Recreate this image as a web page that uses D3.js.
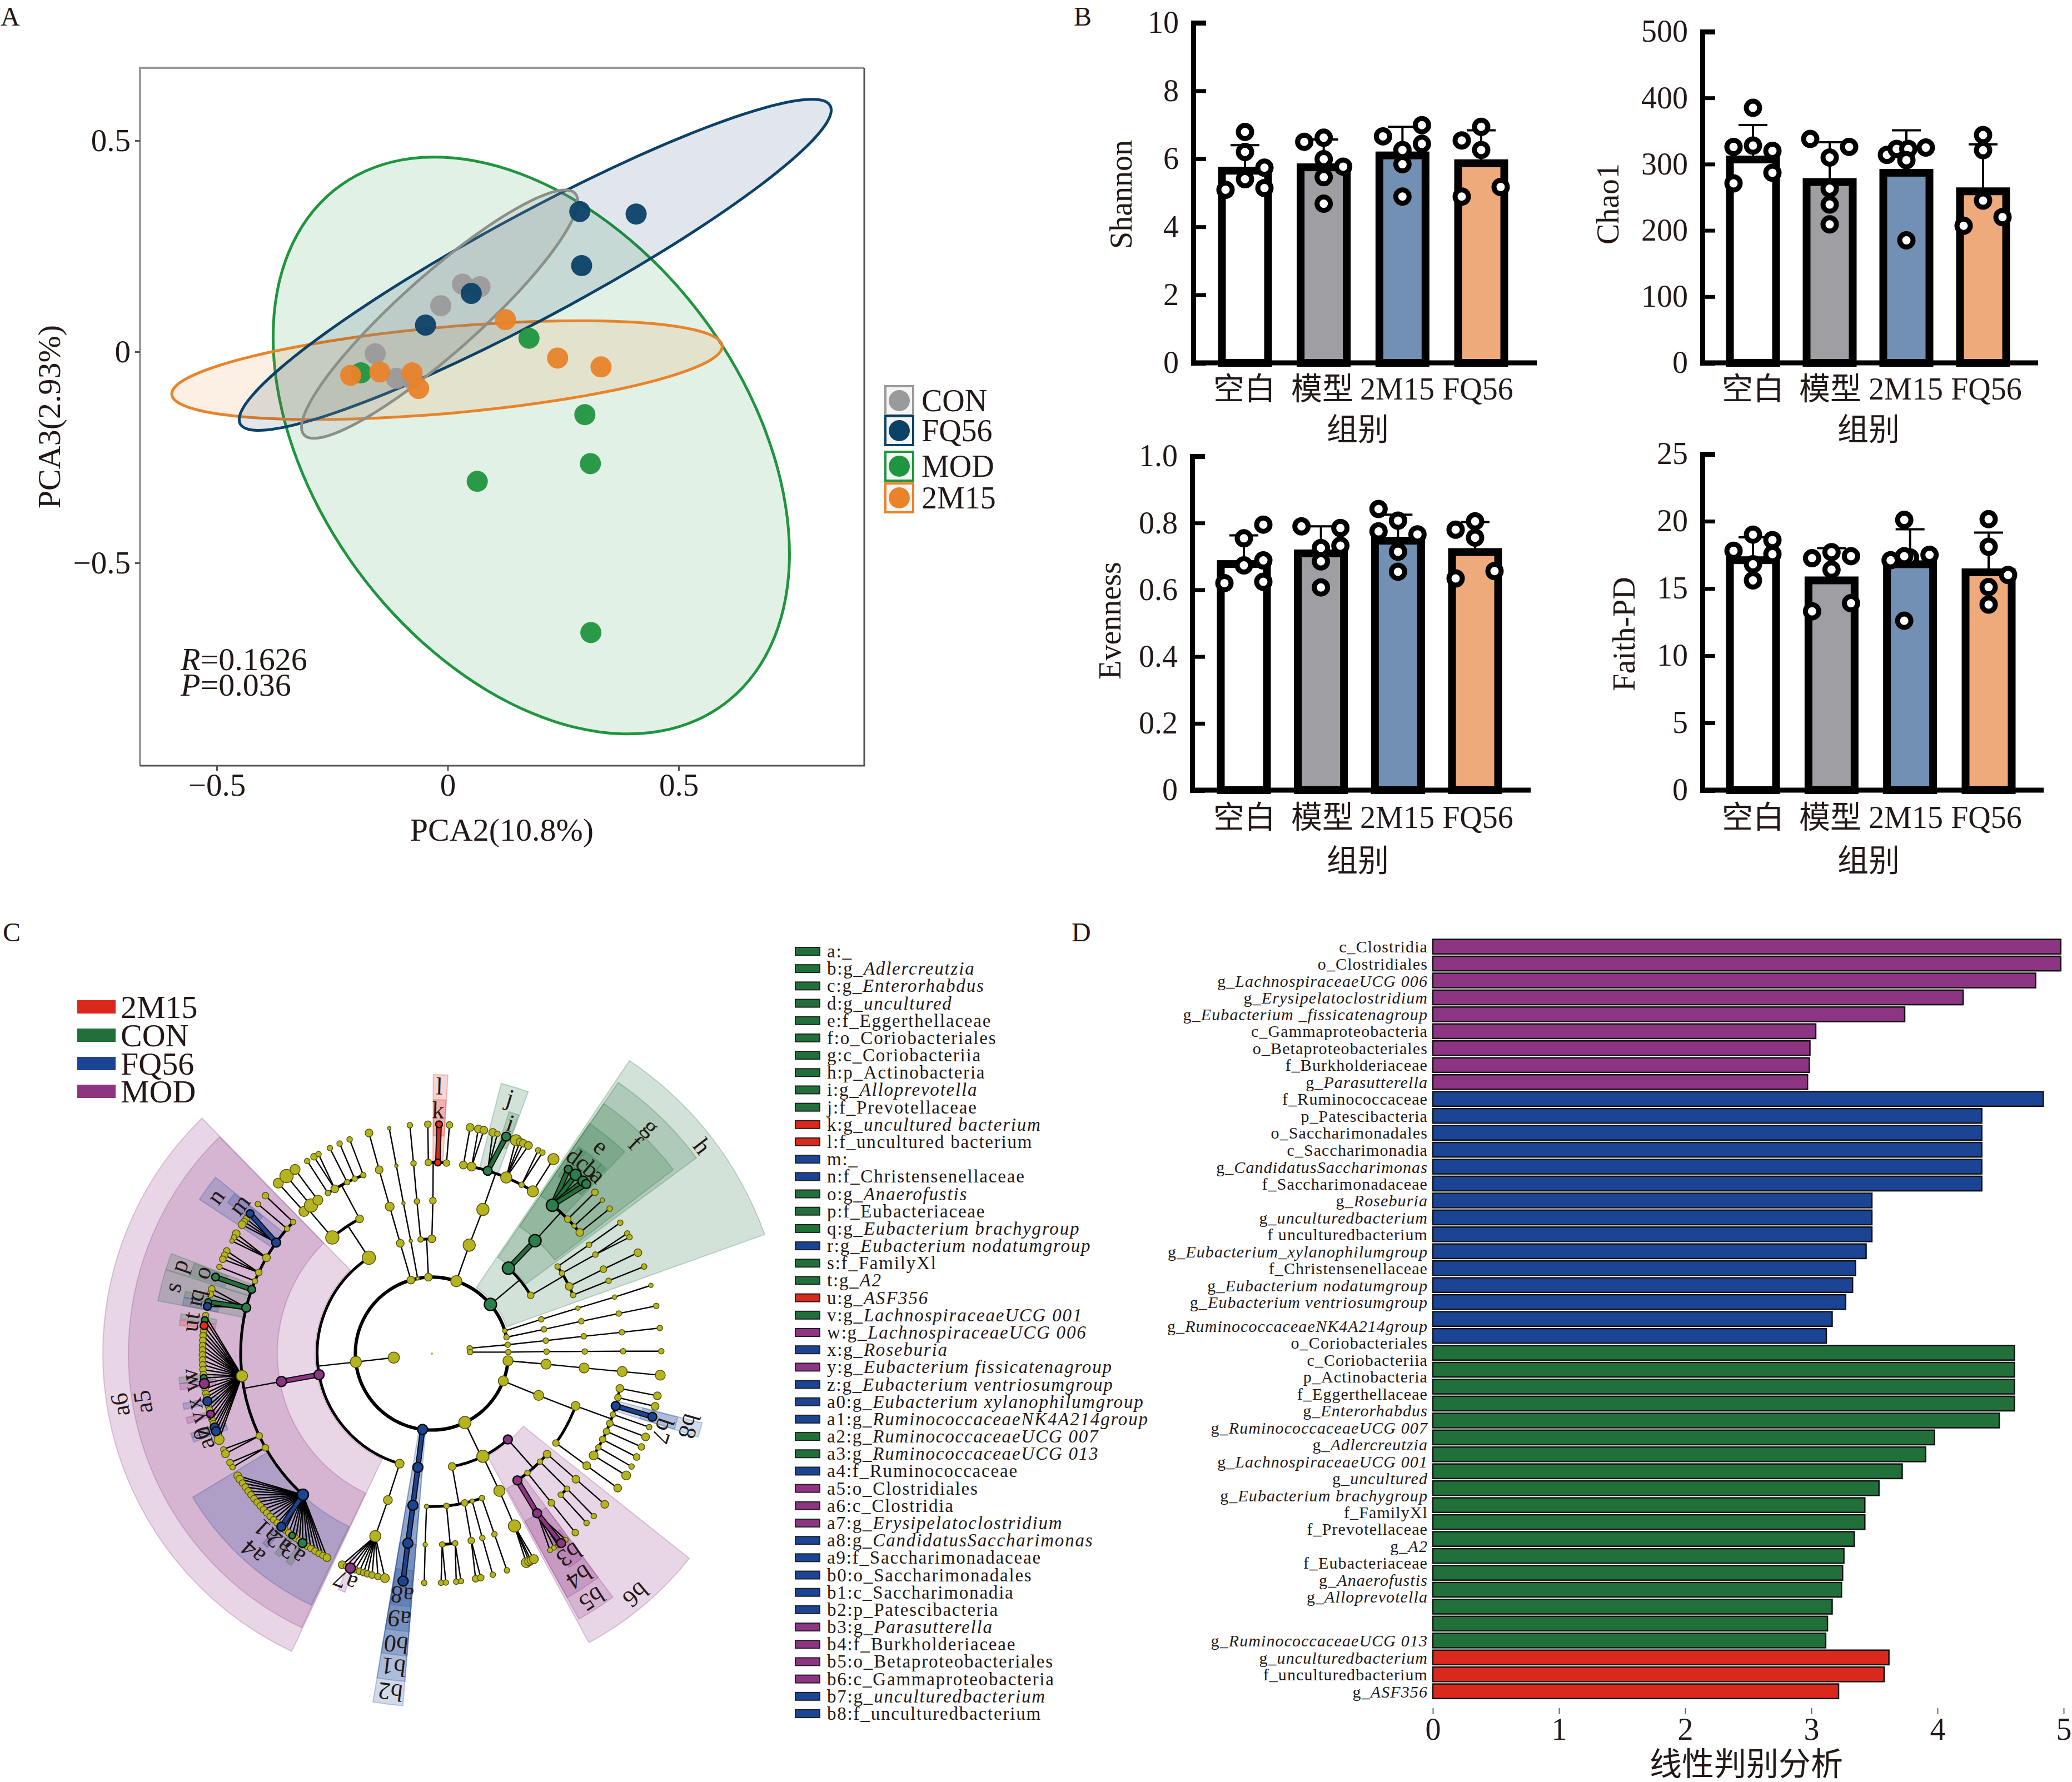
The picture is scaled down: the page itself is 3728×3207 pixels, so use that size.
<!DOCTYPE html>
<html><head><meta charset="utf-8">
<script src="https://cdn.jsdelivr.net/npm/d3@7"></script>
<style>html,body{margin:0;padding:0;background:#fff}svg{display:block}text{font-family:'Liberation Serif','Noto Sans CJK SC',serif;fill:#231815}</style>
</head><body><svg id="c" width="3728" height="3207"></svg>
<script>
// ---------- Panel A data ----------
const pcaGroups=['CON','FQ56','MOD','2M15'];
const pcaColors={CON:'#9a9a9a',FQ56:'#0c4168',MOD:'#20953f',['2M15']:'#e9832a'};
const pcaCON=[[-0.157,-0.005],[0.032,0.160],[0.070,0.154],[-0.015,0.109],[-0.111,-0.063],[-0.079,-0.064]];
const pcaFQ56=[[0.286,0.332],[0.408,0.326],[0.290,0.204],[0.051,0.138],[-0.048,0.063]];
const pcaMOD=[[0.176,0.032],[0.297,-0.149],[0.309,-0.265],[0.064,-0.307],[0.310,-0.665],[-0.188,-0.050]];
const pca2M15=[[0.125,0.076],[0.238,-0.015],[0.332,-0.036],[-0.077,-0.050],[-0.147,-0.048],[-0.210,-0.056],[-0.063,-0.087]];
// centre x, centre y, half extent x, half extent y, correlation
const pcaEllipses={CON:[-0.0175,0.089,0.299,0.294,0.91],FQ56:[0.1895,0.2058,0.641,0.392,0.935],MOD:[0.181,-0.222,0.559,0.683,-0.375],['2M15']:[-0.0015,-0.0436,0.596,0.117,0.48]};
const pcaTicks=[-0.5,0,0.5];
// ---------- Panel B data ----------
const alphaGroups=['空白','模型','2M15','FQ56'];
const alphaFills=['#ffffff','#9e9ea3','#7290b3','#eeaa7b'];
const shannonMeans=[5.65,5.75,6.1,5.87], shannonUpper=[6.4,6.57,6.94,6.84];
const chaoMeans=[307,273,287,259], chaoUpper=[359,333,351,330];
const evenMeans=[0.677,0.709,0.747,0.713], evenUpper=[0.763,0.79,0.825,0.803];
const faithMeans=[17.1,15.6,16.8,16.2], faithUpper=[18.8,18,19.4,19.15];
const shannonDots=[[[0,6.79],[0,6.2],[1,5.74],[0,5.4],[-1,5.09],[1,5.14]],[[-1,6.5],[0,6.62],[0,5.99],[1,5.77],[0,5.46],[0,4.68]],[[-1,6.66],[1,6.99],[1,6.44],[0,6.26],[0,5.84],[0,4.89]],[[0,6.94],[-1,6.54],[0,6.26],[1,5.17],[-1,4.89]]];
const chaoDots=[[[0,385],[-1,326],[0,328],[1,320],[1,287],[-1,271]],[[-1,338],[1,326],[0,310],[0,263],[0,239],[0,209]],[[-1,314],[-0.5,323],[1,325],[0.1,323],[0,306],[0,185]],[[0,344],[0,321],[0,245],[1,220],[-1,207]]];
const evenDots=[[[1,0.795],[0,0.754],[1,0.688],[0,0.673],[-1,0.62],[1,0.624]],[[-1,0.79],[1,0.785],[1,0.732],[0,0.725],[0,0.685],[0,0.607]],[[-1,0.842],[0,0.807],[-1,0.775],[1,0.766],[0,0.714],[0,0.654]],[[0,0.805],[-1,0.78],[0,0.756],[1,0.656],[-1,0.634]]];
const faithDots=[[[0,19],[-1,17.8],[1,18.6],[1,17.55],[0,16.8],[0,15.6]],[[-1,17.25],[0,17.7],[1,17.4],[0,16.4],[1,13.9],[-1,13.3]],[[-0.3,20.1],[-1,17.1],[0,17.3],[1,17.5],[-0.3,17.4],[-0.3,12.6]],[[0,20.15],[0,18.1],[1,16],[0,15.1],[0,13.8]]];
// ---------- Panel C data ----------
const groupColors={R:'#db281c',C:'#21703a',F:'#1b4594',M:'#8d3483',Y:'#b6b41e'};
const claLegendNames=['2M15','CON','FQ56','MOD'];
const claLegendCodes=['R','C','F','M'];
// id, parent, level, angle, abundance, group
const cladeRows=[
['k2',null,0,82,5],['k2p','k2',1,83.3,5],['k2c','k2p',2,83.5,5],['k2o','k2c',3,83.5,5],['k2f','k2o',4,83.6,5],[null,'k2f',5,83.6,5],
['k3',null,0,87.8,5],['k3p','k3',1,88.9,5],['k3c','k3p',2,89,5],['k3o','k3c',3,89.2,5],['k3f','k3o',4,89.3,5],[null,'k3f',5,89.4,5],
['p95',null,1,95.4,9],['c95','p95',2,95.3,9],['o95','c95',3,95.4,9],['f95','o95',4,95.4,9],[null,'f95',5,95.4,9],
['p111',null,1,111,9],['c111','p111',2,111.4,9],['o110','c111',3,110,8],['o126','c111',3,125.8,6],['f126','o126',4,125.9,7],[null,'f126',5,125.9,7],
['f100','o110',4,100.5,7],[null,'f100',5,100.6,7],['f103','o110',4,103.3,6],[null,'f103',5,103.3,7],['b8','o110',4,105.9,8,'F'],['b7','b8',5,106,8,'F'],
['f108','o110',4,108.6,5],[null,'f108',5,108.7,5],['f111','o110',4,111.4,6],[null,'f111',5,111.3,7],['f114','o110',4,114,6],[null,'f114',5,114,6],
['f117','o110',4,116.7,6],[null,'f117',5,116.8,6],['f119','o110',4,119.4,5],[null,'f119',5,119.5,5],['f122','o110',4,122.2,8],[null,'f122',5,122.1,8],
['p154',null,1,154.4,11],['c153','p154',2,153.6,11],['b6','p154',2,138.5,8,'M'],['c170','p154',2,169.8,7],
['o154','c153',3,153.8,10],['f154','o154',4,154.4,11],[null,'f154',5,155.7,9],[null,'f154',5,154.9,8],[null,'f154',5,154.4,7],[null,'f154',5,153.6,8],
['o131','b6',3,131.1,7],['o135','b6',3,135,5],['o141','b6',3,141.3,5],['b5','b6',3,146,8,'M'],
['f131','o131',4,131.1,7],[null,'f131',5,131.1,7],['f135','o135',4,135,5],[null,'f135',5,135.1,5],['f138','o135',4,137.6,5],[null,'f138',5,137.6,5],
['f141','o141',4,141.3,6],[null,'f141',5,141.3,6],['b4','b5',4,146.6,8,'M'],[null,'b4',5,149,4.5],[null,'b4',5,147.8,4.5],[null,'b4',5,146.7,4.5],[null,'b4',5,144.3,4.5],['b3','b4',5,145.7,8,'M'],
['o161','c170',3,160.9,5],['o165','c170',3,164.7,4],['o168','c170',3,167.6,6],['o175','c170',3,174.5,5],['o182','c170',3,182,4],
['f161','o161',4,160.9,5],[null,'f161',5,160.9,5],['f165','o165',4,164.7,5],[null,'f165',5,164.6,5],['f168','o168',4,168.1,6],[null,'f168',5,169,6],[null,'f168',5,167.7,6],
['f177','o175',4,176.9,5],['f173','o175',4,173,5],[null,'f177',5,177.7,5],[null,'f177',5,176.5,5],[null,'f173',5,173.9,5],[null,'f173',5,172.7,5],
['f182','o182',4,182,4],[null,'f182',5,181.9,5],
['b2',null,1,187,9,'F'],['b1','b2',2,187,9,'F'],['b0','b1',3,187.1,9,'F'],['a9','b0',4,187.2,9,'F'],['a8','a9',5,187.2,9,'F'],
['k1',null,0,264,10],['pfir','k1',1,263.7,10],
['ca','pfir',2,196.3,8],['oa','ca',3,196.7,8],['fa','oa',4,197.2,10],
[null,'fa',5,203,7],[null,'fa',5,202,5],['a7','fa',5,200.8,9,'M'],[null,'fa',5,199.6,6],[null,'fa',5,198.4,6],[null,'fa',5,197.3,6],[null,'fa',5,196.3,6],[null,'fa',5,195.1,6],[null,'fa',5,193.6,6],[null,'fa',5,191.8,8],
['a6','pfir',2,259.4,9,'M'],['a5','a6',3,259.5,9,'M'],['cb','pfir',2,326.7,12],
['a4','a5',4,222.4,10,'F'],['f240','a5',4,240.5,6],['f244','a5',4,244.5,6],['f263','a5',4,263.3,10],['s','a5',4,283.9,8,'C'],['p','a5',4,289.6,7,'C'],['f292','a5',4,292.3,5],['f295','a5',4,295.1,6],['f300','a5',4,300.1,7],['n','a5',4,305.5,8,'F'],['f311','a5',4,310.8,5],['f313','a5',4,313.5,5],
[null,'f240',5,241.6,6],[null,'f240',5,240.3,5],[null,'f244',5,245.3,5],[null,'f244',5,244.1,7],
[null,'f263',5,279.5,6],['t','f263',5,278.4,6,'C'],['u','f263',5,277,7,'R'],[null,'f263',5,275.7,6],[null,'f263',5,274.5,6],[null,'f263',5,273.3,6],[null,'f263',5,272,6],[null,'f263',5,270.9,6],[null,'f263',5,269.7,6],[null,'f263',5,268.4,6],[null,'f263',5,267.2,6],[null,'f263',5,266,6],[null,'f263',5,264.8,6],['v','f263',5,263.9,6,'C'],['w','f263',5,262.5,9,'M'],[null,'f263',5,261.2,6],[null,'f263',5,260,6],[null,'f263',5,259,6],['x','f263',5,258,8,'F'],[null,'f263',5,256.8,6],[null,'f263',5,255.8,6],['y','f263',5,254.7,7,'M'],[null,'f263',5,253.4,6],[null,'f263',5,252.2,6],['z','f263',5,251.2,8,'F'],['a0','f263',5,250.2,8,'F'],[null,'f263',5,249,7],[null,'f263',5,248,9],
[null,'s',5,286.4,6],[null,'s',5,285,6],['q','s',5,283,6,'C'],['r','s',5,281.9,7,'F'],['o','p',5,289.5,7,'C'],
[null,'f292',5,292.2,5],[null,'f295',5,296.6,6],[null,'f295',5,295.4,6],[null,'f295',5,294.3,6],[null,'f300',5,301.5,7],[null,'f300',5,300.4,5],[null,'f300',5,299.4,4],
['m','n',5,307.6,7,'F'],[null,'n',5,306,6],[null,'n',5,305.1,6],[null,'n',5,304.2,7],[null,'f311',5,310.7,5],[null,'f313',5,313.5,6],
[null,'a4',5,237.8,7],[null,'a4',5,236.8,7],[null,'a4',5,235.6,6],[null,'a4',5,234.4,6],[null,'a4',5,233.2,6],[null,'a4',5,232,6],[null,'a4',5,230.8,6],[null,'a4',5,229.6,6],[null,'a4',5,228.4,6],[null,'a4',5,227.2,6],[null,'a4',5,226,6],[null,'a4',5,224.8,6],[null,'a4',5,223.6,6],[null,'a4',5,222.4,6],['a1','a4',5,221,8,'F'],[null,'a4',5,219.8,6],[null,'a4',5,218.6,6],['a2','a4',5,217.5,6,'C'],[null,'a4',5,216.4,6],[null,'a4',5,215.3,6],['a3','a4',5,214.3,8,'C'],[null,'a4',5,213,6],[null,'a4',5,211.8,6],[null,'a4',5,210.6,6],[null,'a4',5,209.4,6],[null,'a4',5,208.3,6],[null,'a4',5,207.2,7],
['ob1','cb',3,319.4,12],['ob2','cb',3,331.8,7],
['f318','ob1',4,318,9],['f321','ob1',4,320.8,12],['f323','ob1',4,323.4,9],[null,'f318',5,318,9],[null,'f321',5,320.7,12],[null,'f323',5,323.4,9],
['f327','ob2',4,327.1,5],['f330','ob2',4,329.5,7],['f334','ob2',4,333.7,5],['f336','ob2',4,336.2,5],['f339','ob2',4,339,5],
[null,'f327',5,327.1,5],[null,'f330',5,329.1,6],[null,'f330',5,330.4,5],[null,'f334',5,333.6,5],[null,'f336',5,336.3,5],[null,'f339',5,339,5],
['p344',null,1,-15.9,7],['c344','p344',2,-16,7],['o344','c344',3,-16,8],['f344','o344',4,-16,7],[null,'f344',5,-15.9,7],
['p349',null,1,-10.7,3],['c349','p349',2,-10.6,3],['o349','c349',3,-10.7,3],['f349','o349',4,-10.7,3],[null,'f349',5,-10.7,3],
['p357',null,1,-2.6,7],['c354','p357',2,-5.6,5],['c360','p357',2,0,7],['o354','c354',3,-5.6,5],['f354','o354',4,-5.5,5],[null,'f354',5,-5.5,5],
['o360','c360',3,0.4,6],['f359','o360',4,-1.05,6],['l','o360',4,1.8,6,'R'],['f364','o360',4,4.4,6],[null,'f359',5,-1,6],['k','l',5,1.8,6,'R'],[null,'f364',5,4.4,6],
['p19',null,1,18.7,10],['c19','p19',2,19,11],['o19','c19',3,19.5,11],
['f10','o19',4,9.5,7],['f12','o19',4,12,8],['j','o19',4,17,8,'C'],['f23','o19',4,22.9,10],['f28','o19',4,28,5],['f32','o19',4,31.9,10],
[null,'f10',5,9.6,7],[null,'f12',5,11.7,7],[null,'f12',5,13.1,7],[null,'j',5,15.4,7],[null,'j',5,16.6,5],['i','j',5,18.9,8,'C'],
[null,'f23',5,21.5,10],[null,'f23',5,22.6,7],[null,'f23',5,23.5,7],[null,'f23',5,24.9,7],[null,'f28',5,27.6,5],[null,'f28',5,28.8,5],[null,'f32',5,32,10],
['h',null,1,50,11,'C'],['g','h',2,41.9,11,'C'],['c59','h',2,59.5,6],['f','g',3,42.4,11,'C'],
['e','f',4,39.1,11,'C'],['f45','f',4,45.3,6],['f48','f',4,48.1,4],['f51','f',4,50.7,7],
['d','e',5,36.5,7,'C'],['c','e',5,38.8,10,'C'],['b','e',5,41.2,9,'C'],['a','e',5,42.3,8,'C'],
[null,'f45',5,45.3,6],[null,'f48',5,48,4],[null,'f51',5,50.8,5],
['o55','c59',3,55.3,5],['o58','c59',3,58.3,5],['o64','c59',3,63.9,7],['o68','c59',3,67.5,5],
['f55','o55',4,55.3,5],[null,'f55',5,55.2,5],['f59','o58',4,58.8,5],[null,'f59',5,58.4,5],[null,'f59',5,59.5,5],['f64','o64',4,63.8,6],[null,'f64',5,63.9,7],['f68','o68',4,67.6,5],[null,'f68',5,67.7,5],
['p73',null,1,72.7,4],['c73','p73',2,72.6,5],['o73','c73',3,72.7,4],['f73','o73',4,72.8,4],[null,'f73',5,72.7,4],
['p78',null,1,77.6,5],['c78','p78',2,77.8,5],['o78','c78',3,77.8,5],['f78','o78',4,77.9,5],[null,'f78',5,78,5]
];
// label, level, from angle, to angle, group, label angle
const claHighlights=[
['h',1,34,70.3,'C',52.5],['g',2,34.5,53.5,'C',44],['f',3,34.5,52.7,'C',44],['e',4,34.4,43.7,'C',39.2],
['d',5,35.4,37.2,'C',35.7],['c',5,37.4,39.8,'C',38.4],['b',5,40,41.8,'C',40.8],['a',5,41.8,43.2,'C',43],
['j',4,14.4,20.2,'C',17],['i',5,17.7,20,'C',18.8],['l',4,0.3,3.3,'R',1.6],['k',5,0.4,3.2,'R',1.5],
['a6',2,205.2,315.7,'M',260.7],['a5',3,205.4,315.6,'M',260.5],['a4',4,205.6,239,'F',222],
['n',4,303.6,309.2,'F',306],['m',5,306.5,309,'F',307.7],['p',4,287.6,291,'C',289.2],['o',5,288,290.8,'C',289.5],
['s',4,280.9,287.5,'C',284.4],['q',5,282.8,284.2,'C',284],['r',5,281,282.8,'F',282.3],['t',5,277.8,279,'C',279],['u',5,276.4,277.6,'R',276.6],
['v',5,263.2,264.6,'C',265],['w',5,261.8,263.2,'M',263],['x',5,257.3,258.7,'F',258],['y',5,254,255.4,'M',254.7],['z',5,250.7,251.7,'F',250.9],['a0',5,249.6,250.7,'F',249.6],
['a1',5,220.3,221.7,'F',223],['a2',5,216.8,218.2,'C',219],['a3',5,213.6,215,'C',214.8],['a7',5,200,201.6,'M',200.8],
['a8',5,185,189.4,'F',187],['a9',4,184.7,189.6,'F',187],['b0',3,184.7,189.6,'F',187],['b1',2,184.7,189.6,'F',187],['b2',1,184.7,189.6,'F',187],
['b3',5,144,147.3,'M',145.7],['b4',4,143.4,151,'M',146.6],['b5',3,143.4,151,'M',146.9],['b6',2,128.5,151.5,'M',139.8],
['b7',5,104.5,107.3,'F',108.5],['b8',4,104.4,107.4,'F',105.8]
];
const claLegendLabels=['a:_','b:g_Adlercreutzia','c:g_Enterorhabdus','d:g_uncultured','e:f_Eggerthellaceae','f:o_Coriobacteriales','g:c_Coriobacteriia','h:p_Actinobacteria','i:g_Alloprevotella','j:f_Prevotellaceae','k:g_uncultured bacterium','l:f_uncultured bacterium','m:_','n:f_Christensenellaceae','o:g_Anaerofustis','p:f_Eubacteriaceae','q:g_Eubacterium brachygroup','r:g_Eubacterium nodatumgroup','s:f_FamilyXl','t:g_A2','u:g_ASF356','v:g_LachnospiraceaeUCG 001','w:g_LachnospiraceaeUCG 006','x:g_Roseburia','y:g_Eubacterium fissicatenagroup','z:g_Eubacterium ventriosumgroup','a0:g_Eubacterium xylanophilumgroup','a1:g_RuminococcaceaeNK4A214group','a2:g_RuminococcaceaeUCG 007','a3:g_RuminococcaceaeUCG 013','a4:f_Ruminococcaceae','a5:o_Clostridiales','a6:c_Clostridia','a7:g_Erysipelatoclostridium','a8:g_CandidatusSaccharimonas','a9:f_Saccharimonadaceae','b0:o_Saccharimonadales','b1:c_Saccharimonadia','b2:p_Patescibacteria','b3:g_Parasutterella','b4:f_Burkholderiaceae','b5:o_Betaproteobacteriales','b6:c_Gammaproteobacteria','b7:g_unculturedbacterium','b8:f_unculturedbacterium'];
const claLegendGroups='CCCCCCCCCCRRFFCCCFCCRCMFMFFFCCFMMMFFFFFMMMMFF'.split('');
// ---------- Panel D data ----------
const ldaNames=['c_Clostridia','o_Clostridiales','g_LachnospiraceaeUCG 006','g_Erysipelatoclostridium','g_Eubacterium _fissicatenagroup','c_Gammaproteobacteria','o_Betaproteobacteriales','f_Burkholderiaceae','g_Parasutterella',
'f_Ruminococcaceae','p_Patescibacteria','o_Saccharimonadales','c_Saccharimonadia','g_CandidatusSaccharimonas','f_Saccharimonadaceae','g_Roseburia','g_unculturedbacterium','f unculturedbacterium','g_Eubacterium_xylanophilumgroup','f_Christensenellaceae','g_Eubacterium nodatumgroup','g_Eubacterium ventriosumgroup','g_RuminococcaceaeNK4A214group','o_Coriobacteriales',
'c_Coriobacteriia','p_Actinobacteria','f_Eggerthellaceae','g_Enterorhabdus','g_RuminococcaceaeUCG 007','g_Adlercreutzia','g_LachnospiraceaeUCG 001','g_uncultured','g_Eubacterium brachygroup','f_FamilyXl','f_Prevotellaceae','g_A2','f_Eubacteriaceae','g_Anaerofustis','g_Alloprevotella','','','g_RuminococcaceaeUCG 013',
'g_unculturedbacterium','f_unculturedbacterium','g_ASF356'];
const ldaValues=[4.977,4.977,4.778,4.203,3.74,3.035,2.989,2.984,2.97,
4.838,4.351,4.351,4.351,4.351,4.351,3.48,3.48,3.48,3.434,3.35,3.327,3.272,3.165,3.119,
4.61,4.61,4.61,4.61,4.49,3.976,3.906,3.72,3.536,3.424,3.424,3.34,3.258,3.248,3.239,3.165,3.128,3.114,
3.615,3.577,3.216];
const ldaGroups='MMMMMMMMMFFFFFFFFFFFFFFFCCCCCCCCCCCCCCCCCCRRR'.split('');
const ldaTicks=[0,1,2,3,4,5];

// ---------- drawing ----------
const svg=d3.select('#c');
const FS=56;
function txt(g,x,y,s,o={}){return g.append('text').attr('x',x).attr('y',y).attr('font-size',o.fs||FS).attr('text-anchor',o.a||'start').attr('dominant-baseline','central').attr('transform',o.rot!=null?`rotate(${o.rot} ${x} ${y})`:null).attr('font-style',o.it?'italic':null).attr('letter-spacing',o.ls||null).text(s);}
function rich(sel,s){ // roman prefix up to g_, italic name after it
  const i=s.indexOf('g_');
  if(i<0){sel.text(s);return;}
  sel.append('tspan').text(s.slice(0,i+2));
  sel.append('tspan').attr('font-style','italic').text(s.slice(i+2));
}
const fmtTick=d=>d===0?'0':(Number.isInteger(d)?String(d):d3.format('.1f')(d));
const fmtOne=d=>d===0?'0':d3.format('.1f')(d);

// panel letters
[['A',1,29],['B',1932,29],['C',5,1677],['D',1928,1677]].forEach(d=>txt(svg,d[1],d[2],d[0],{fs:48}));

// ---- Panel A ----
(function(){
  const g=svg.append('g');
  const x=d3.scaleLinear().domain([-0.5,0.5]).range([390,1221]);
  const y=d3.scaleLinear().domain([-0.5,0.5]).range([1013,253]);
  const L=252,R=1555,T=122,B=1378;
  const line=d3.line().x(d=>x(d[0])).y(d=>y(d[1])).curve(d3.curveCatmullRomClosed);
  const order=['MOD','2M15','FQ56','CON'];
  order.forEach(k=>{
    const [cx,cy,a,b,r]=pcaEllipses[k];
    const pts=d3.range(0,360,5).map(t=>{const q=t*Math.PI/180;return [cx+a*Math.cos(q),cy+b*(r*Math.cos(q)+Math.sqrt(1-r*r)*Math.sin(q))];});
    g.append('path').attr('d',line(pts)).attr('fill',pcaColors[k]).attr('fill-opacity',k==='CON'?0.2:0.13).attr('stroke',k==='CON'?'#8a8f88':pcaColors[k]).attr('stroke-width',5);
  });
  const sets={CON:pcaCON,FQ56:pcaFQ56,MOD:pcaMOD,['2M15']:pca2M15};
  ['CON','MOD','FQ56','2M15'].forEach(k=>{
    g.selectAll(null).data(sets[k]).join('circle').attr('cx',d=>x(d[0])).attr('cy',d=>y(d[1])).attr('r',19).attr('fill',pcaColors[k]).attr('fill-opacity',0.95);
  });
  g.append('path').attr('d',`M${L},${B}V${T}H${R}`).attr('fill','none').attr('stroke','#9a9a9a').attr('stroke-width',4);
  g.append('path').attr('d',`M${L},${B}H${R}V${T}`).attr('fill','none').attr('stroke','#555').attr('stroke-width',3);
  const ax=g.append('g').attr('transform',`translate(0,${B})`).call(d3.axisBottom(x).tickValues(pcaTicks).tickSize(9).tickPadding(5).tickFormat(fmtTick));
  const ay=g.append('g').attr('transform',`translate(${L},0)`).call(d3.axisLeft(y).tickValues(pcaTicks).tickSize(9).tickPadding(8).tickFormat(fmtTick));
  [ax,ay].forEach(s=>{s.select('.domain').remove();s.selectAll('line').attr('stroke','#555').attr('stroke-width',3);s.selectAll('text').attr('font-size',FS+1).attr('font-family',"'Liberation Serif'");});
  txt(g,903,1493,'PCA2(10.8%)',{a:'middle',fs:58});
  txt(g,88,750,'PCA3(2.93%)',{a:'middle',rot:-90,fs:58});
  const r1=txt(g,325,1186,'',{fs:58}); r1.append('tspan').attr('font-style','italic').text('R'); r1.append('tspan').text('=0.1626');
  const r2=txt(g,325,1232,'',{fs:58}); r2.append('tspan').attr('font-style','italic').text('P'); r2.append('tspan').text('=0.036');
  const rows=[721,775,839,896];
  pcaGroups.forEach((k,i)=>{
    g.append('rect').attr('x',1593).attr('y',rows[i]-26).attr('width',50).attr('height',52).attr('fill','#f4f4f4').attr('stroke',k==='CON'?'#9a9a9a':pcaColors[k]).attr('stroke-width',4);
    g.append('circle').attr('cx',1618).attr('cy',rows[i]).attr('r',19).attr('fill',pcaColors[k]);
    txt(g,1658,rows[i],k);
  });
})();

// ---- Panel B ----
function barPanel(o){
  const g=svg.append('g');
  const y=d3.scaleLinear().domain([0,o.max]).range([o.y0,o.yTop]);
  const x=d3.scalePoint().domain(alphaGroups).range(o.xr);
  const w=83,dx=35;
  alphaGroups.forEach((c,i)=>{
    g.append('rect').attr('x',x(c)-w/2).attr('y',y(o.means[i])).attr('width',w).attr('height',o.y0-y(o.means[i])).attr('fill',alphaFills[i]).attr('stroke','#000').attr('stroke-width',14);
    g.append('path').attr('d',`M${x(c)},${y(o.means[i])}V${y(o.upper[i])}M${x(c)-26},${y(o.upper[i])}H${x(c)+26}`).attr('fill','none').attr('stroke','#000').attr('stroke-width',4);
    g.selectAll(null).data(o.dots[i]).join('circle').attr('cx',d=>x(c)+d[0]*dx).attr('cy',d=>y(d[1])).attr('r',12).attr('fill','#fff').attr('stroke','#000').attr('stroke-width',9);
  });
  g.append('line').attr('x1',o.ax-4).attr('x2',o.xEnd).attr('y1',o.y0).attr('y2',o.y0).attr('stroke','#000').attr('stroke-width',9);
  const a=g.append('g').attr('transform',`translate(${o.ax},0)`).call(d3.axisLeft(y).tickValues(o.ticks).tickSize(-23).tickPadding(26).tickFormat(o.fmt||fmtTick));
  a.select('.domain').attr('stroke','#000').attr('stroke-width',9);
  a.selectAll('line').attr('stroke','#000').attr('stroke-width',7);
  a.selectAll('text').attr('font-size',FS).attr('font-family',"'Liberation Serif'").attr('fill','#231815');
  alphaGroups.forEach((c,i)=>txt(g,o.labx[i],o.labY,c,{a:'middle'}));
  txt(g,o.titleX,o.titleY,'组别',{a:'middle'});
  txt(g,o.yLabX,o.yLabY,o.name,{a:'middle',rot:-90});
}
barPanel({name:'Shannon',max:10,ticks:[0,2,4,6,8,10],means:shannonMeans,upper:shannonUpper,dots:shannonDots,y0:653,yTop:41,ax:2147,xEnd:2765,xr:[2240,2665],labx:[2239,2379,2514,2659],labY:700,titleY:773,titleX:2443,yLabX:2017,yLabY:350});
barPanel({name:'Chao1',max:500,ticks:[0,100,200,300,400,500],means:chaoMeans,upper:chaoUpper,dots:chaoDots,y0:653,yTop:57,ax:3063,xEnd:3667,xr:[3154,3568],labx:[3154,3293,3429,3574],labY:700,titleY:773,titleX:3362,yLabX:2893,yLabY:367});
barPanel({name:'Evenness',max:1,fmt:fmtOne,ticks:[0,0.2,0.4,0.6,0.8,1],means:evenMeans,upper:evenUpper,dots:evenDots,y0:1422,yTop:821,ax:2145,xEnd:2754,xr:[2238,2654],labx:[2239,2379,2514,2659],labY:1471,titleY:1549,titleX:2443,yLabX:1997,yLabY:1117});
barPanel({name:'Faith-PD',max:25,ticks:[0,5,10,15,20,25],means:faithMeans,upper:faithUpper,dots:faithDots,y0:1422,yTop:817,ax:3063,xEnd:3677,xr:[3154,3578],labx:[3154,3293,3429,3574],labY:1471,titleY:1549,titleX:3362,yLabX:2922,yLabY:1141});

// ---- Panel C ----
(function(){
  const CX=777,CY=2436;
  const g=svg.append('g').attr('transform',`translate(${CX},${CY})`);
  const rad=d3.scaleLinear().domain([0,5]).range([68.8,412.8]);
  const rIn=[0,143,210,278,345,392], rOut=[0,636,592,546,502,457], rLab=[0,613,568,527,481,438];
  const toRad=d=>d*Math.PI/180;
  const pt=(l,a)=>[rad(l)*Math.sin(toRad(a)),-rad(l)*Math.cos(toRad(a))];
  const nodes=cladeRows.map(r=>({id:r[0],parent:r[1],level:r[2],angle:r[3],size:r[4],group:r[5]||'Y'}));
  const byId=new Map(nodes.filter(n=>n.id).map(n=>[n.id,n]));
  const kids=d3.group(nodes.filter(n=>n.parent),n=>n.parent);
  const arcGen=d3.arc();
  const hs=claHighlights.slice().sort((a,b)=>a[1]-b[1]);
  hs.forEach(h=>{
    g.append('path').attr('d',arcGen({innerRadius:rIn[h[1]],outerRadius:rOut[h[1]],startAngle:toRad(h[2]),endAngle:toRad(h[3])}))
      .attr('fill',groupColors[h[4]]).attr('fill-opacity',0.2).attr('stroke',groupColors[h[4]]).attr('stroke-opacity',0.25).attr('stroke-width',2);
  });
  const thin=g.append('g'), thick=g.append('g'), top=g.append('g');
  const thinW=2.4, arcW=5;
  const arcPath=(r,a0,a1)=>d3.arc()({innerRadius:r,outerRadius:r,startAngle:toRad(a0),endAngle:toRad(a1)});
  const chainPhyla=new Set(['k2p','k3p']);
  const ring=nodes.filter(n=>n.level===1&&!chainPhyla.has(n.id)).map(n=>n.angle<90?n.angle+360:n.angle);
  thick.append('path').attr('d',arcPath(rad(1),d3.min(ring),d3.max(ring))).attr('fill','none').attr('stroke','#000').attr('stroke-width',arcW+1);
  const seg=(p,q,w,col)=>thin.append('line').attr('x1',p[0]).attr('y1',p[1]).attr('x2',q[0]).attr('y2',q[1]).attr('stroke',col||'#000').attr('stroke-width',w);
  kids.forEach((cs,pid)=>{
    const p=byId.get(pid);
    const lev=cs[0].level;
    const P=pt(p.level,p.angle);
    if(lev===5||cs.length===1){
      cs.forEach(c=>{
        if(c.group!=='Y'&&c.group===p.group){
          const A=P,B=pt(c.level,c.angle);
          thick.append('line').attr('x1',A[0]).attr('y1',A[1]).attr('x2',B[0]).attr('y2',B[1]).attr('stroke','#0b0b0b').attr('stroke-width',10);
          thick.append('line').attr('x1',A[0]).attr('y1',A[1]).attr('x2',B[0]).attr('y2',B[1]).attr('stroke',groupColors[c.group]).attr('stroke-width',6);
        } else seg(P,pt(c.level,c.angle),thinW);
      });
    } else {
      const as=cs.map(c=>c.angle);
      const arcR=rad(lev);
      thick.append('path').attr('d',arcPath(arcR,d3.min(as),d3.max(as))).attr('fill','none').attr('stroke','#000').attr('stroke-width',arcW);
      seg(P,pt(lev,p.angle),thinW);
    }
  });
  const sizeScale=d3.scaleLinear().domain([0,12]).range([0,12]);
  const sorted=nodes.slice().sort((a,b)=>(a.group==='Y'?0:1)-(b.group==='Y'?0:1));
  top.selectAll('circle').data(sorted).join('circle').attr('cx',d=>pt(d.level,d.angle)[0]).attr('cy',d=>pt(d.level,d.angle)[1]).attr('r',d=>sizeScale(d.size))
    .attr('fill',d=>d.group==='R'?'#ee2a1f':d.group==='C'?'#2a8048':groupColors[d.group]).attr('stroke',d=>d.group==='Y'?'#55550f':'#0b0b0b').attr('stroke-width',d=>d.group==='Y'?1.5:2.5);
  top.append('circle').attr('r',2).attr('fill',groupColors.Y);
  claHighlights.forEach(h=>{
    const r=rLab[h[1]],a=toRad(h[5]);
    const X=r*Math.sin(a),Y=-r*Math.cos(a);
    top.append('text').attr('x',X).attr('y',Y).attr('text-anchor','middle').attr('dominant-baseline','central').attr('font-size',44).attr('transform',`rotate(${h[5]} ${X} ${Y})`).text(h[0]);
  });
  const ly=[1812,1863,1914,1964];
  claLegendNames.forEach((n,i)=>{
    svg.append('rect').attr('x',139).attr('y',ly[i]-12).attr('width',69).attr('height',24).attr('fill',groupColors[claLegendCodes[i]]);
    txt(svg,217,ly[i],n,{fs:58});
  });
  const row=d3.scaleLinear().domain([0,44]).range([1712,3084]);
  claLegendLabels.forEach((s,i)=>{
    svg.append('rect').attr('x',1431).attr('y',row(i)-7).attr('width',44).attr('height',14).attr('fill',groupColors[claLegendGroups[i]]).attr('stroke','#222').attr('stroke-width',2);
    const t=txt(svg,1488,row(i),'',{fs:33,ls:1.8}); rich(t,s);
  });
})();

// ---- Panel D ----
(function(){
  const g=svg.append('g');
  const x=d3.scaleLinear().domain([0,5]).range([2578,3713]);
  const y=d3.scaleBand().domain(d3.range(ldaNames.length)).range([1689,1689+45*30.43]).paddingInner(0.14).paddingOuter(0.05);
  ldaValues.forEach((v,i)=>{
    g.append('rect').attr('x',x(0)).attr('y',y(i)).attr('width',x(v)-x(0)).attr('height',y.bandwidth()).attr('fill',groupColors[ldaGroups[i]]).attr('stroke','#111').attr('stroke-width',2.5);
  });
  ldaNames.forEach((s,i)=>{
    if(!s) return;
    const off=(i>=22&&i<=38)?12.5:0;
    const t=txt(g,2569,y(i)+y.bandwidth()/2+off,'',{fs:30,a:'end',ls:1.1}); rich(t,s);
  });
  const a=g.append('g').attr('transform','translate(0,3074)').call(d3.axisBottom(x).tickValues(ldaTicks).tickSize(11).tickPadding(6).tickFormat(d3.format('d')));
  a.select('.domain').remove();
  a.selectAll('line').attr('stroke','#666').attr('stroke-width',2);
  a.selectAll('text').attr('font-size',FS).attr('font-family',"'Liberation Serif'").attr('fill','#231815');
  txt(g,3142,3175,'线性判别分析',{a:'middle',fs:58});
})();
</script></body></html>
